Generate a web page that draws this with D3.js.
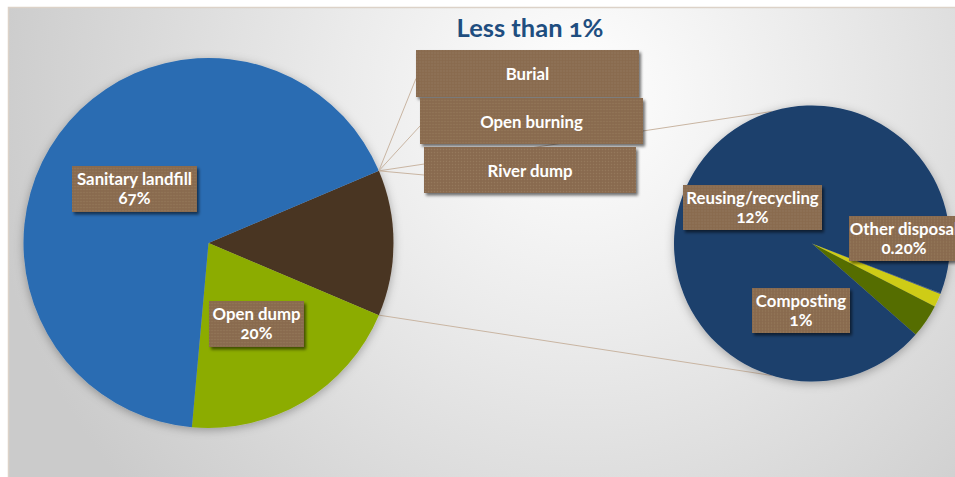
<!DOCTYPE html>
<html>
<head>
<meta charset="utf-8">
<script src="https://cdn.jsdelivr.net/npm/d3@7"></script>
<style>
  html, body { margin: 0; padding: 0; background: #fff; }
  svg { display: block; }
  text { font-family: Lato, "Open Sans", sans-serif; font-weight: 700; font-variant-numeric: oldstyle-nums; }
</style>
</head>
<body>
<svg id="chart" width="955" height="477"></svg>
<script>
// Waste disposal methods (% of total waste).
// Primary pie: the two main methods plus one slice that groups the small methods,
// which are broken out in the secondary pie on the right.
const mainCategories = ["Sanitary landfill", "Open dump"];
const mainValues = [67, 20];

const secondaryCategories = ["Other disposal", "Composting", "Reusing/recycling", "Burial", "Open burning", "River dump"];
const secondaryValues = [0.2, 0.5, 12, 0.004, 0.004, 0.004];

const smallCategories = ["Burial", "Open burning", "River dump"];   // each below 1%
const titleText = "Less than 1%";

// ---- styling / layout ----
const W = 955, H = 477;
const colors = {
  "Sanitary landfill": "#2A6CB2",
  "Open dump": "#8CAC02",
  "Other": "#4A3522",
  "Reusing/recycling": "#1B3F6C",
  "Composting": "#556D00",
  "Other disposal": "#CECC14",
  "Burial": "#2B4A75",
  "Open burning": "#24446F",
  "River dump": "#20416E"
};
const decimals = { "Other disposal": 2 };
const mainPie = { cx: 208.5, cy: 243, r: 185 };
const secPie = { cx: 812, cy: 243.5, r: 138, start: 111.5 };   // start angle in degrees
const connectorAngle = 17;                                         // degrees from the top/bottom of the secondary pie
const labelBoxes = {
  "Sanitary landfill": { cx: 134.5, cy: 189, w: 125, h: 46 },
  "Open dump":         { cx: 256.5, cy: 324, w: 95,  h: 46 },
  "Reusing/recycling": { cx: 752.5, cy: 207.5, w: 139, h: 45 },
  "Composting":        { cx: 801,   cy: 310.5, w: 98,  h: 45 },
  "Other disposal":    { cx: 904,   cy: 238.5, w: 110, h: 45 },
  "Burial":            { cx: 527.5, cy: 73.5,  w: 223, h: 47 },
  "Open burning":      { cx: 531.5, cy: 121,   w: 223, h: 46 },
  "River dump":        { cx: 530,   cy: 170,   w: 212, h: 46 }
};

const svg = d3.select("#chart");
const defs = svg.append("defs");

// background: soft radial light on a grey panel
const bg = defs.append("radialGradient").attr("id", "bgGrad")
  .attr("gradientUnits", "userSpaceOnUse")
  .attr("cx", 580).attr("cy", 95).attr("r", 600);
bg.append("stop").attr("offset", 0).attr("stop-color", "#ffffff");
bg.append("stop").attr("offset", 0.4).attr("stop-color", "#ebebeb");
bg.append("stop").attr("offset", 1).attr("stop-color", "#cbcbcb");

// label texture: fine dots on a brown fill
const pat = defs.append("pattern").attr("id", "dots")
  .attr("width", 3).attr("height", 3).attr("patternUnits", "userSpaceOnUse");
pat.append("rect").attr("width", 3).attr("height", 3).attr("fill", "#8B6D51");
pat.append("rect").attr("width", 1).attr("height", 1).attr("fill", "#95785C");
pat.append("rect").attr("x", 1.5).attr("y", 1.5).attr("width", 1).attr("height", 1).attr("fill", "#83664B");

const pieShadow = defs.append("filter").attr("id", "pieShadow")
  .attr("x", "-20%").attr("y", "-20%").attr("width", "140%").attr("height", "140%");
pieShadow.append("feDropShadow").attr("dx", 0).attr("dy", 2).attr("stdDeviation", 5)
  .attr("flood-color", "#000").attr("flood-opacity", 0.3);

const boxShadow = defs.append("filter").attr("id", "boxShadow")
  .attr("x", "-10%").attr("y", "-20%").attr("width", "130%").attr("height", "160%");
boxShadow.append("feDropShadow").attr("dx", 2).attr("dy", 2.5).attr("stdDeviation", 1.6)
  .attr("flood-color", "#000").attr("flood-opacity", 0.55);

svg.append("rect").attr("x", 8.5).attr("y", 7.5).attr("width", W).attr("height", H)
  .attr("fill", "url(#bgGrad)").attr("stroke", "#DCD2C8").attr("stroke-width", 1.5);

// ---- pie layouts ----
const rad = Math.PI / 180;
const otherTotal = d3.sum(secondaryValues);
const mainData = [{ name: "Other", value: otherTotal }]
  .concat(mainCategories.map((c, i) => ({ name: c, value: mainValues[i] })).reverse());
const mainTotal = d3.sum(mainData, d => d.value);
const otherSpan = otherTotal / mainTotal * 2 * Math.PI;
const mainStart = Math.PI / 2 - otherSpan / 2;   // grouped slice faces the secondary pie

const mainArcs = d3.pie().sort(null).value(d => d.value)
  .startAngle(mainStart).endAngle(mainStart + 2 * Math.PI)(mainData);

const secData = secondaryCategories.map((c, i) => ({ name: c, value: secondaryValues[i] }));
const secArcs = d3.pie().sort(null).value(d => d.value)
  .startAngle(secPie.start * rad).endAngle(secPie.start * rad + 2 * Math.PI)(secData);

const polar = (p, a, r) => [p.cx + r * Math.sin(a), p.cy - r * Math.cos(a)];

// split points on the grouped slice and targets on the secondary pie
const otherArc = mainArcs[0];
const splitTop = polar(mainPie, otherArc.startAngle, mainPie.r);
const splitBot = polar(mainPie, otherArc.endAngle, mainPie.r);
const secTop = polar(secPie, -connectorAngle * rad, secPie.r);
const secBot = polar(secPie, Math.PI + connectorAngle * rad, secPie.r);

const lineColor = "#C9B5A2";
svg.append("g").selectAll("line").data([[splitTop, secTop], [splitBot, secBot]]).join("line")
  .attr("x1", d => d[0][0]).attr("y1", d => d[0][1])
  .attr("x2", d => d[1][0]).attr("y2", d => d[1][1])
  .attr("stroke", lineColor).attr("stroke-width", 1);

// primary pie
const mainArc = d3.arc().innerRadius(0).outerRadius(mainPie.r);
svg.append("g").attr("transform", `translate(${mainPie.cx},${mainPie.cy})`)
  .attr("filter", "url(#pieShadow)")
  .selectAll("path").data(mainArcs).join("path")
  .attr("d", mainArc).attr("fill", d => colors[d.data.name]);

// secondary pie
const secArc = d3.arc().innerRadius(0).outerRadius(secPie.r);
svg.append("g").attr("transform", `translate(${secPie.cx},${secPie.cy})`)
  .attr("filter", "url(#pieShadow)")
  .selectAll("path").data(secArcs).join("path")
  .attr("d", secArc).attr("fill", d => colors[d.data.name]);

// leader lines for the methods below 1%
svg.append("g").selectAll("line").data(smallCategories).join("line")
  .attr("x1", d => labelBoxes[d].cx - labelBoxes[d].w / 2)
  .attr("y1", d => labelBoxes[d].cy + 5)
  .attr("x2", splitTop[0]).attr("y2", splitTop[1])
  .attr("stroke", lineColor).attr("stroke-width", 1);

// title
svg.append("text").attr("x", 530).attr("y", 37).attr("text-anchor", "middle")
  .attr("font-size", 25.5).attr("fill", "#1F4E80").text(titleText);

// data labels
const fmt = (name, v) => (decimals[name] ? v.toFixed(decimals[name]) : Math.round(v)) + "%";
const valueOf = name => {
  const i = mainCategories.indexOf(name);
  if (i >= 0) return mainValues[i];
  return secondaryValues[secondaryCategories.indexOf(name)];
};
const labelNames = mainCategories
  .concat(secondaryCategories.filter(c => !smallCategories.includes(c)));
const labels = labelNames.map(n => ({ name: n, lines: [n, fmt(n, valueOf(n))] }))
  .concat(smallCategories.map(n => ({ name: n, lines: [n] })));

const lg = svg.append("g").selectAll("g").data(labels).join("g")
  .attr("transform", d => `translate(${labelBoxes[d.name].cx},${labelBoxes[d.name].cy})`);
lg.append("rect")
  .attr("x", d => -labelBoxes[d.name].w / 2).attr("y", d => -labelBoxes[d.name].h / 2)
  .attr("width", d => labelBoxes[d.name].w).attr("height", d => labelBoxes[d.name].h)
  .attr("fill", "url(#dots)").attr("filter", "url(#boxShadow)");
lg.each(function (d) {
  const g = d3.select(this);
  const base = d.lines.length === 1 ? [6.5] : [-4, 15];
  d.lines.forEach((t, i) => {
    g.append("text").attr("x", 0).attr("y", base[i]).attr("text-anchor", "middle")
      .attr("font-size", 16.8).attr("fill", "#ffffff").text(t);
  });
});
</script>
</body>
</html>
